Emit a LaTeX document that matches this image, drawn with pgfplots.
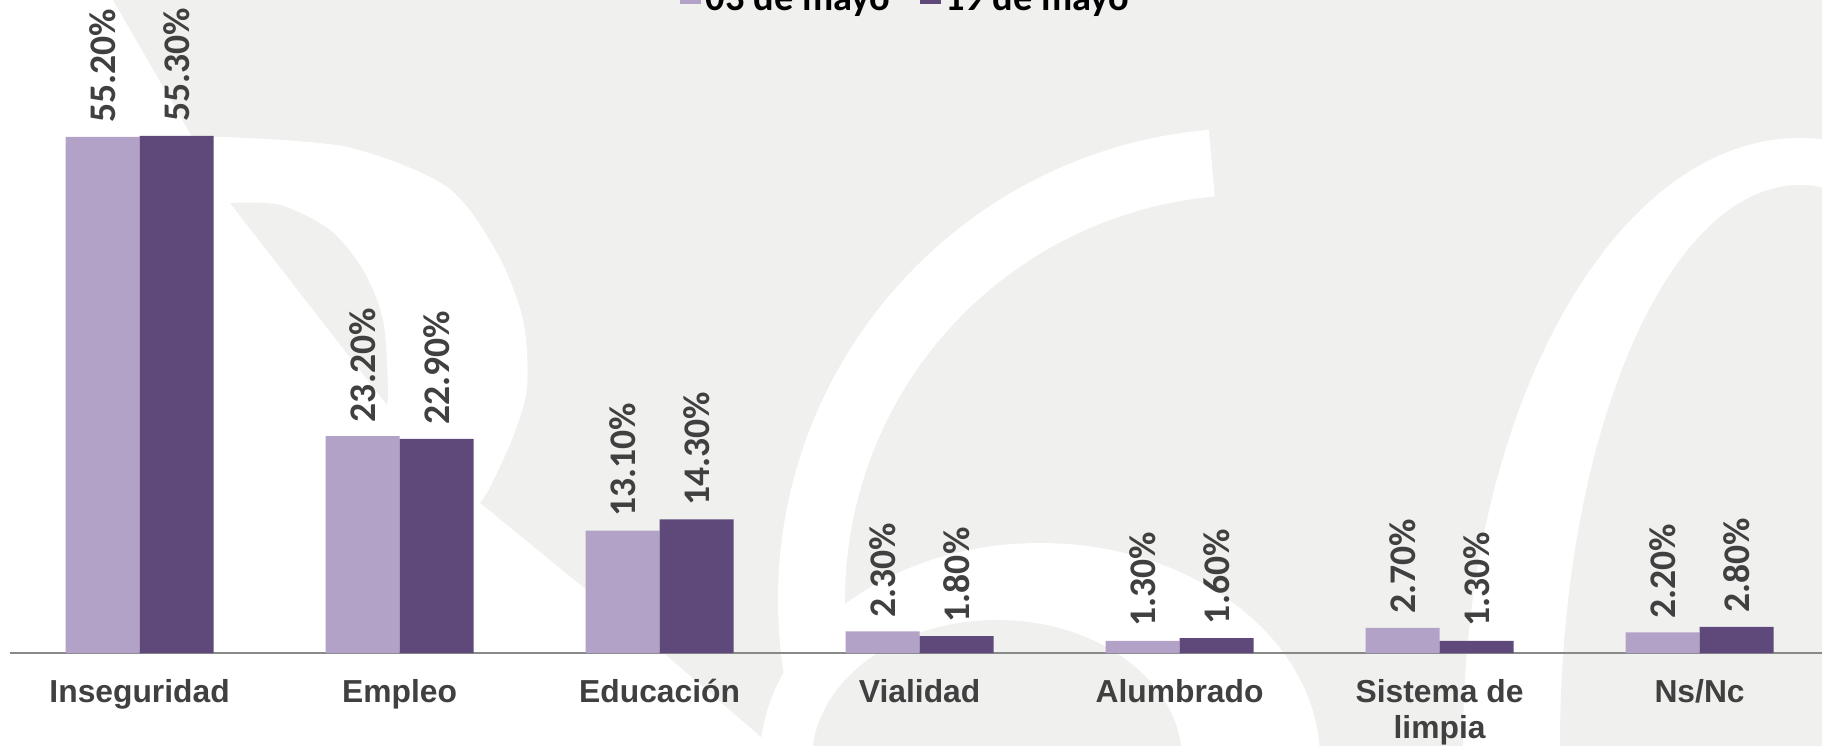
\documentclass[border=0pt]{standalone}
\usepackage{pgfplots}
\pgfplotsset{compat=1.18}
\usepackage{fontspec}
\setmainfont{Liberation Sans}
\newfontfamily\calib{Carlito}
\definecolor{bg}{RGB}{240,240,238}
\definecolor{lightp}{HTML}{B3A2C7}
\definecolor{darkp}{HTML}{5F497A}
\definecolor{txt}{HTML}{404040}
\definecolor{axg}{HTML}{898989}
\begin{document}
\begin{tikzpicture}
\useasboundingbox (0,0) rectangle (911pt,372.5pt);
\clip (0,0) rectangle (911pt,372.5pt);
\begin{scope}[shift={(0pt,372.5pt)}, x=0.5pt, y=-0.5pt]
 \fill[bg] (-5,-5) rectangle (1830,750);
 % R watermark
 \fill[white] (-5,-5) -- (110,-5) -- (192,137) -- plot[smooth] coordinates {(223,137) (347,147) (447,187) (497,253) (523,320) (527,387) (513,437) (490,487) (480,503)} -- (660,650) -- (776,750) -- (-5,750) -- cycle;
 \fill[bg] (230,203) -- plot[smooth] coordinates {(230,203) (280,205) (330,230) (363,270) (383,320) (388,387) (387,405)} -- cycle;
 % big arc
 \fill[white] ([shift={(1250,600)}]-95:472) arc[start angle=-95, end angle=-215, radius=472] -- ([shift={(1250,600)}]-215:405) arc[start angle=-215, end angle=-95, radius=405] -- cycle;
 % small arch
 \fill[white] (1040,760) ellipse [x radius=280, y radius=217];
 \fill[bg] (997,760) ellipse [x radius=185, y radius=140];
 % right arch
 \fill[white] (1800,745) ellipse [x radius=337, y radius=607];
 \fill[bg] (1800,745) ellipse [x radius=240, y radius=560];
\end{scope}
\begin{axis}[
 at={(4.8pt,46pt)}, anchor=south west, scale only axis,
 width=910pt, height=280.5pt,
 xmin=-0.5, xmax=6.5, ymin=0, ymax=60,
 ybar=0pt, bar width=37pt,
 axis y line=none, axis x line*=bottom,
 x axis line style={-, draw=axg, line width=1pt},
 xtick={0,...,6},
 xticklabels={Inseguridad, Empleo, Educación, Vialidad, Alumbrado, {Sistema de\\limpia}, Ns/Nc},
 major tick length=0pt, xtick style={draw=none},
 xticklabel style={font=\bfseries\fontsize{15.9}{18}\selectfont, text=txt, align=center, anchor=north, inner sep=0pt, yshift=-13.0pt},
 nodes near coords={\pgfmathprintnumber[fixed,fixed zerofill,precision=2,assume math mode=true]{\pgfplotspointmeta}\%},
 every node near coord/.append style={font=\calib\bfseries\fontsize{18.8}{20}\selectfont, text=txt, rotate=90, anchor=west, inner xsep=6.8pt, inner ysep=0pt},
 legend style={at={(0.4931,1.167)}, anchor=center, draw=none, fill=none, legend columns=2,
   font=\calib\bfseries\fontsize{19.2}{21}\selectfont, text=black,
   /tikz/every even column/.append style={column sep=12.5pt},
   inner sep=0pt, nodes={inner sep=2.25pt}},
 legend image code/.code={\fill[#1, draw=none] (0pt,-2.6pt) rectangle (10.5pt,7.9pt);},
 clip=false,
]
\addplot[fill=lightp, draw=none] coordinates {(0,55.2) (1,23.2) (2,13.1) (3,2.3) (4,1.3) (5,2.7) (6,2.2)};
\addplot[fill=darkp, draw=none] coordinates {(0,55.3) (1,22.9) (2,14.3) (3,1.8) (4,1.6) (5,1.3) (6,2.8)};
\legend{03 de mayo, 19 de mayo}
\end{axis}
\end{tikzpicture}
\end{document}
